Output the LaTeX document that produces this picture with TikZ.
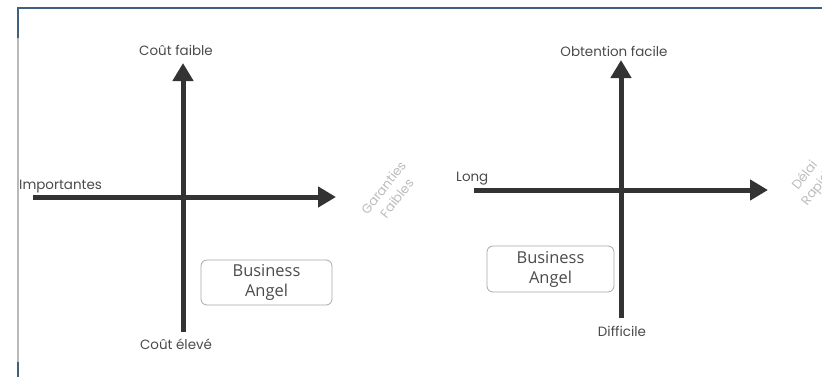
\documentclass[tikz,border=0pt]{standalone}
\usepackage{fontspec}
\setmainfont{Poppins}
\newfontfamily\boxfont{Open Sans}
\usetikzlibrary{arrows.meta}
\definecolor{framec}{HTML}{41607F}
\definecolor{axisc}{HTML}{333333}
\definecolor{labelc}{HTML}{4A4A4A}
\definecolor{faintc}{HTML}{BDBDBD}
\definecolor{boxc}{HTML}{A8A8A8}
\tikzset{
  axis/.style={draw=axisc, line width=5bp, -{Triangle[length=18bp,width=20bp]}},
  axlabel/.style={text=labelc, font=\fontsize{13.5}{16}\selectfont, inner sep=0pt},
  sidelabel/.style={text=faintc, font=\fontsize{13}{17}\selectfont, align=center, inner sep=0pt, rotate=52},
  angelbox/.style={draw=boxc, line width=0.8bp, rounded corners=6bp, text=labelc,
    font=\boxfont\fontsize{16.5}{20}\selectfont, align=center, inner sep=0pt},
}
\begin{document}
\begin{tikzpicture}[x=1bp,y=-1bp]
\useasboundingbox (0,0) rectangle (822,377);
\clip (0,0) rectangle (822,377);
% frame
\draw[framec, line width=2bp] (17.5,377) -- (17.5,7.5) -- (822,7.5);
\draw[gray!55, line width=2bp] (17.5,38) -- (17.5,362);

% ---- left chart: cost vs guarantees ----
\coordinate (l-s) at (183,332);
\coordinate (l-n) at (183,63);
\coordinate (l-w) at (33,197);
\coordinate (l-e) at (336,197);
\draw[axis] (l-s) -- (l-n);
\draw[axis] (l-w) -- (l-e);
\node[axlabel] (l-top) at (176,50) {Coût faible};
\node[axlabel] (l-bot) at (176,344) {Coût élevé};
\node[axlabel, anchor=west] (l-left) at (19,187) {Importantes};
\node[sidelabel] (l-right) at (390,193) {Garanties\\Faibles};
\node[angelbox, minimum width=131bp, minimum height=45bp] (l-box) at (266.5,282.5) {Business\\Angel};

% ---- right chart: access vs delay ----
\coordinate (r-s) at (621,318);
\coordinate (r-n) at (621,60);
\coordinate (r-w) at (474,190);
\coordinate (r-e) at (768,190);
\draw[axis] (r-s) -- (r-n);
\draw[axis] (r-w) -- (r-e);
\node[axlabel] (r-top) at (614,51) {Obtention facile};
\node[axlabel] (r-bot) at (622,331) {Difficile};
\node[axlabel, anchor=west] (r-left) at (456,179) {Long};
\node[sidelabel] (r-right) at (812,181) {Délai\\Rapide};
\node[angelbox, minimum width=127bp, minimum height=46bp] (r-box) at (550.5,269) {Business\\Angel};
\end{tikzpicture}
\end{document}
